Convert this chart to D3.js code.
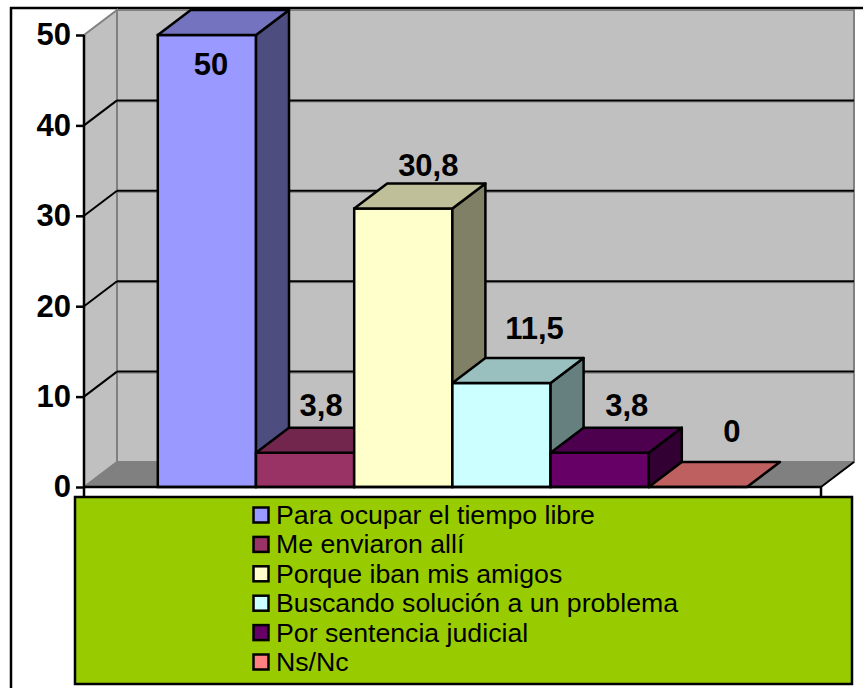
<!DOCTYPE html>
<html>
<head>
<meta charset="utf-8">
<script src="https://cdn.jsdelivr.net/npm/d3@7"></script>
<style>
body { margin: 0; background: #fff; }
svg { display: block; }
text { font-family: "Liberation Sans", Arial, sans-serif; fill: #000; }
</style>
</head>
<body>
<script>
var categories = [
	'Para ocupar el tiempo libre',
	'Me enviaron allí',
	'Porque iban mis amigos',
	'Buscando solución a un problema',
	'Por sentencia judicial',
	'Ns/Nc'
];
var values = [50, 3.8, 30.8, 11.5, 3.8, 0];
var valueLabels = ['50', '3,8', '30,8', '11,5', '3,8', '0'];
var barColours = ['#9999FF', '#993366', '#FFFFCC', '#CCFFFF', '#660066', '#FF8080'];
var yTicks = [0, 10, 20, 30, 40, 50];

// chart box
var width = 863, height = 688;
var depthX = 33, depthY = -25;
var x0 = 84, x1 = 821, yBase = 487, yTop = 35;
var lineW = 2.5;

// data label nudges from the top centre of each bar's front, hand placed
var labelDx = [4, 16, 25, 33, 27, 34];
var labelDy = [40, -37, -33, -44, -37, -45];

var svg = d3.select('body').append('svg')
	.attr('width', width)
	.attr('height', height);

var x = d3.scaleBand()
	.domain(categories)
	.range([157.8, 747]);

var y = d3.scaleLinear()
	.domain([0, 50])
	.range([yBase, yTop]);

var poly = function(pts) {
	return pts.map(function(p) { return p.join(','); }).join(' ');
};

var shade = function(col, k) {
	var c = d3.rgb(col);
	return d3.rgb(c.r * k, c.g * k, c.b * k).formatHex();
};

// frame, only top and left show
svg.append('path')
	.attr('d', 'M11,' + height + 'V8H' + width)
	.attr('fill', 'none')
	.attr('stroke', '#000')
	.attr('stroke-width', 2.5);

// walls and floor
var walls = svg.append('g');

walls.append('polygon')
	.attr('points', poly([[x0 + depthX, yTop + depthY], [x1 + depthX, yTop + depthY], [x1 + depthX, yBase + depthY], [x0 + depthX, yBase + depthY]]))
	.attr('fill', '#C0C0C0')
	.attr('stroke', '#808080')
	.attr('stroke-width', 2);

walls.append('polygon')
	.attr('points', poly([[x0, yTop], [x0 + depthX, yTop + depthY], [x0 + depthX, yBase + depthY], [x0, yBase]]))
	.attr('fill', '#C0C0C0')
	.attr('stroke', '#808080')
	.attr('stroke-width', 2);

walls.append('polygon')
	.attr('points', poly([[x0, yBase], [x0 + depthX, yBase + depthY], [x1 + depthX, yBase + depthY], [x1, yBase]]))
	.attr('fill', '#808080')
	.attr('stroke', '#808080')
	.attr('stroke-width', 1);

// gridlines, on the side wall and the back wall
var gridVals = yTicks.filter(function(d) { return d > 0 && d < 50; });

walls.selectAll('.gridShadow')
	.data(gridVals).enter()
	.append('line')
	.attr('class', 'gridShadow')
	.attr('x1', x0 + depthX)
	.attr('x2', x1 + depthX)
	.attr('y1', function(d) { return y(d) + depthY + 1.5; })
	.attr('y2', function(d) { return y(d) + depthY + 1.5; })
	.attr('stroke', '#808080')
	.attr('stroke-width', 1);

walls.selectAll('.gridBack')
	.data(gridVals).enter()
	.append('line')
	.attr('class', 'gridBack')
	.attr('x1', x0 + depthX)
	.attr('x2', x1 + depthX)
	.attr('y1', function(d) { return y(d) + depthY; })
	.attr('y2', function(d) { return y(d) + depthY; })
	.attr('stroke', '#000')
	.attr('stroke-width', 2);

walls.selectAll('.gridSide')
	.data(gridVals).enter()
	.append('line')
	.attr('class', 'gridSide')
	.attr('x1', x0)
	.attr('x2', x0 + depthX)
	.attr('y1', function(d) { return y(d); })
	.attr('y2', function(d) { return y(d) + depthY; })
	.attr('stroke', '#000')
	.attr('stroke-width', 2);

// right floor edge
walls.append('line')
	.attr('x1', x1)
	.attr('y1', yBase)
	.attr('x2', x1 + depthX)
	.attr('y2', yBase + depthY)
	.attr('stroke', '#000')
	.attr('stroke-width', 2);

// bars, left to right so each one overlaps the previous side face
var bars = svg.selectAll('.bar')
	.data(categories).enter()
	.append('g')
	.attr('class', 'bar');

bars.each(function(d, i) {
	var g = d3.select(this);
	var l = x(d), r = l + x.bandwidth();
	var t = y(values[i]), b = y(0);

	if (values[i] > 0) {
		g.append('rect')
			.attr('x', l)
			.attr('y', t)
			.attr('width', r - l)
			.attr('height', b - t)
			.attr('fill', barColours[i])
			.attr('stroke', '#000')
			.attr('stroke-width', lineW);

		g.append('polygon')
			.attr('points', poly([[r, t], [r + depthX, t + depthY], [r + depthX, b + depthY], [r, b]]))
			.attr('fill', shade(barColours[i], 0.5))
			.attr('stroke', '#000')
			.attr('stroke-width', lineW)
			.attr('stroke-linejoin', 'round');
	}

	g.append('polygon')
		.attr('points', poly([[l, t], [l + depthX, t + depthY], [r + depthX, t + depthY], [r, t]]))
		.attr('fill', shade(barColours[i], 0.75))
		.attr('stroke', '#000')
		.attr('stroke-width', lineW)
		.attr('stroke-linejoin', 'round');
});

// axis
var yAxis = d3.axisLeft(y)
	.tickValues(yTicks)
	.tickSize(8)
	.tickPadding(5)
	.tickFormat(d3.format('d'));

var axisG = svg.append('g')
	.attr('transform', 'translate(' + x0 + ',0)')
	.call(yAxis);

axisG.select('.domain').remove();
axisG.selectAll('line').attr('stroke', '#000').attr('stroke-width', lineW);
axisG.selectAll('text')
	.attr('font-size', 31)
	.attr('font-weight', 'bold')
	.attr('font-family', '"Liberation Sans", Arial, sans-serif');

axisG.append('line')
	.attr('x1', 0)
	.attr('x2', 0)
	.attr('y1', yTop)
	.attr('y2', 497)
	.attr('stroke', '#000')
	.attr('stroke-width', lineW);

svg.append('path')
	.attr('d', 'M' + x0 + ',' + yBase + 'H' + x1 + 'V497')
	.attr('fill', 'none')
	.attr('stroke', '#000')
	.attr('stroke-width', lineW);

// data labels
svg.selectAll('.valueLabel')
	.data(valueLabels).enter()
	.append('text')
	.attr('class', 'valueLabel')
	.attr('x', function(d, i) { return x(categories[i]) + x.bandwidth() / 2 + labelDx[i]; })
	.attr('y', function(d, i) { return y(values[i]) + labelDy[i]; })
	.attr('text-anchor', 'middle')
	.attr('font-size', 31)
	.attr('font-weight', 'bold')
	.text(function(d) { return d; });

// legend
var legend = svg.append('g');

legend.append('rect')
	.attr('x', 75)
	.attr('y', 497)
	.attr('width', 777)
	.attr('height', 187)
	.attr('fill', '#99CC00')
	.attr('stroke', '#000')
	.attr('stroke-width', lineW);

var legendY = d3.scalePoint()
	.domain(categories)
	.range([515, 662]);

legend.selectAll('.swatch')
	.data(categories).enter()
	.append('rect')
	.attr('class', 'swatch')
	.attr('x', 253.5)
	.attr('y', function(d) { return legendY(d) - 7.5; })
	.attr('width', 15)
	.attr('height', 15)
	.attr('fill', function(d, i) { return barColours[i]; })
	.attr('stroke', '#000')
	.attr('stroke-width', lineW);

legend.selectAll('.legendText')
	.data(categories).enter()
	.append('text')
	.attr('class', 'legendText')
	.attr('x', 276)
	.attr('y', function(d) { return legendY(d) + 9; })
	.attr('font-size', 26.7)
	.text(function(d) { return d; });
</script>
</body>
</html>
